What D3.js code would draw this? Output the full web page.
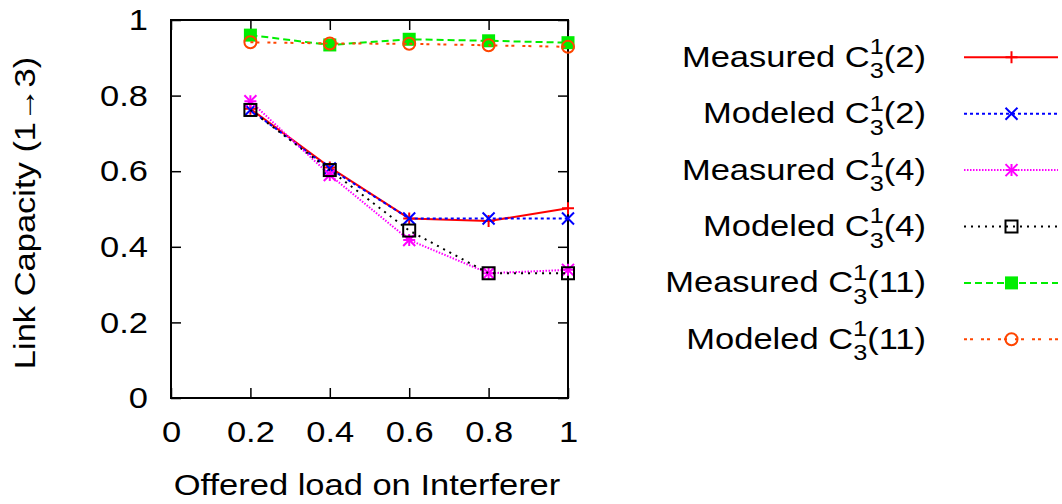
<!DOCTYPE html>
<html>
<head>
<meta charset="utf-8">
<script src="https://cdn.jsdelivr.net/npm/d3@7"></script>
<style>
  body { margin: 0; background: #fff; }
  svg { font-family: "Liberation Sans", Arial, Helvetica, sans-serif; }
</style>
</head>
<body>
<svg id="chart" width="1062" height="504"></svg>
<script>
const loads = [0.2, 0.4, 0.6, 0.8, 1.0];
const measured2 = [0.765, 0.61, 0.475, 0.468, 0.502];
const modeled2 = [0.762, 0.607, 0.475, 0.475, 0.475];
const measured4 = [0.785, 0.59, 0.418, 0.33, 0.339];
const modeled4 = [0.762, 0.603, 0.443, 0.33, 0.33];
const measured11 = [0.96, 0.934, 0.949, 0.945, 0.94];
const modeled11 = [0.941, 0.938, 0.937, 0.933, 0.929];
const xTicks = [0, 0.2, 0.4, 0.6, 0.8, 1];
const yTicks = [0, 0.2, 0.4, 0.6, 0.8, 1];

const series = [
  { kind: 'Measured', arg: '2', values: measured2, color: '#ff0000', dash: null, marker: 'plus' },
  { kind: 'Modeled', arg: '2', values: modeled2, color: '#0000ff', dash: '3,3', marker: 'cross' },
  { kind: 'Measured', arg: '4', values: measured4, color: '#ff00ff', dash: '1.5,1.5', marker: 'star' },
  { kind: 'Modeled', arg: '4', values: modeled4, color: '#000000', dash: '2,5', marker: 'box' },
  { kind: 'Measured', arg: '11', values: measured11, color: '#00ee00', dash: '7,4', marker: 'fbox' },
  { kind: 'Modeled', arg: '11', values: modeled11, color: '#ff4500', dash: '3,3,3,8', marker: 'circle' }
];

const svg = d3.select('#chart');
const margin = { top: 20, left: 171 };
const width = 397, height = 378;
const stretch = 1.15; // the original font runs wider than Liberation Sans

const x = d3.scaleLinear().domain([0, 1]).range([0, width]);
const y = d3.scaleLinear().domain([0, 1]).range([height, 0]);

const g = svg.append('g').attr('transform', `translate(${margin.left},${margin.top})`);

// mirrored inward ticks
const tickLen = 10;
g.append('g').attr('transform', `translate(0,${height})`)
  .call(d3.axisBottom(x).tickValues(xTicks).tickSize(-tickLen).tickPadding(23).tickFormat(d3.format('~g')));
g.append('g').call(d3.axisTop(x).tickValues(xTicks).tickSize(-tickLen).tickFormat(''));
g.append('g')
  .call(d3.axisLeft(y).tickValues(yTicks).tickSize(-tickLen).tickPadding(20).tickFormat(d3.format('~g')));
g.append('g').attr('transform', `translate(${width},0)`)
  .call(d3.axisRight(y).tickValues(yTicks).tickSize(-tickLen).tickFormat(''));

g.selectAll('.domain').remove();
g.selectAll('.tick line').attr('stroke', '#000').attr('stroke-width', 1.5);
g.selectAll('.tick text')
  .style('font-size', '30px')
  .attr('fill', '#000')
  .attr('transform', `scale(${stretch},1)`);

g.append('rect').attr('width', width).attr('height', height)
  .attr('fill', 'none').attr('stroke', '#000').attr('stroke-width', 2);

function drawMarker(sel, type, color) {
  const s = 6;
  if (type === 'plus' || type === 'star') {
    sel.append('path').attr('d', `M${-s},0H${s}M0,${-s}V${s}`).attr('stroke', color).attr('stroke-width', 2);
  }
  if (type === 'cross' || type === 'star') {
    sel.append('path').attr('d', `M${-s},${-s}L${s},${s}M${-s},${s}L${s},${-s}`).attr('stroke', color).attr('stroke-width', 2);
  }
  if (type === 'box') {
    sel.append('rect').attr('x', -6).attr('y', -6).attr('width', 12).attr('height', 12)
      .attr('fill', 'none').attr('stroke', color).attr('stroke-width', 2);
  }
  if (type === 'fbox') {
    sel.append('rect').attr('x', -6.5).attr('y', -6.5).attr('width', 13).attr('height', 13).attr('fill', color);
  }
  if (type === 'circle') {
    sel.append('circle').attr('r', 6).attr('fill', 'none').attr('stroke', color).attr('stroke-width', 2);
  }
}

const line = d3.line().x(d => x(d[0])).y(d => y(d[1]));

series.forEach(s => {
  const pts = loads.map((l, i) => [l, s.values[i]]);
  g.append('path').datum(pts)
    .attr('d', line)
    .attr('fill', 'none')
    .attr('stroke', s.color)
    .attr('stroke-width', 2)
    .attr('stroke-dasharray', s.dash);
  pts.forEach(p => {
    const m = g.append('g').attr('transform', `translate(${x(p[0])},${y(p[1])})`);
    drawMarker(m, s.marker, s.color);
  });
});

// axis titles
svg.append('text')
  .attr('transform', `translate(367,495) scale(${stretch},1)`)
  .attr('text-anchor', 'middle')
  .style('font-size', '30px')
  .text('Offered load on Interferer');

svg.append('text')
  .attr('transform', `translate(35,213) rotate(-90) scale(${stretch},1)`)
  .attr('text-anchor', 'middle')
  .style('font-size', '30px')
  .text('Link Capacity (1\u21923)');

// legend
const legend = svg.append('g');
series.forEach((s, i) => {
  const cy = 57.3 + i * 56.4;
  const t = legend.append('text')
    .attr('transform', `translate(926,${cy + 9.5}) scale(${stretch},1)`)
    .attr('text-anchor', 'end')
    .style('font-size', '30px');
  t.append('tspan').text(`${s.kind} C`);
  t.append('tspan').attr('dy', -12.7).style('font-size', '22px').text('1');
  t.append('tspan').attr('dy', 24.3).attr('dx', -12.2).style('font-size', '22px').text('3');
  t.append('tspan').attr('dy', -11.6).text(`(${s.arg})`);

  legend.append('line')
    .attr('x1', 964).attr('x2', 1058).attr('y1', cy).attr('y2', cy)
    .attr('stroke', s.color).attr('stroke-width', 2)
    .attr('stroke-dasharray', s.dash);
  const m = legend.append('g').attr('transform', `translate(1011.5,${cy})`);
  drawMarker(m, s.marker, s.color);
});
</script>
</body>
</html>
